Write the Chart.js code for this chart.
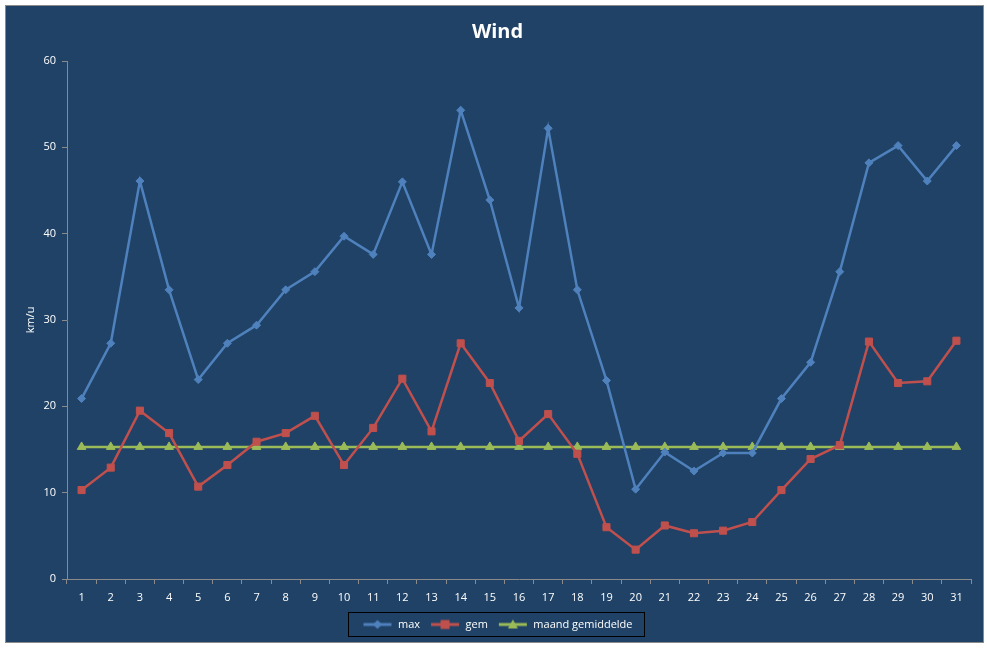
<!DOCTYPE html>
<html><head><meta charset="utf-8">
<script src="https://cdn.jsdelivr.net/npm/chart.js@4.4.0/dist/chart.umd.min.js"></script>
<style>
html,body{margin:0;padding:0;background:#fff;}
#wrap{position:absolute;left:5px;top:5px;width:977px;height:636px;border:1px solid #8a8a8a;background:#1F4266;}
canvas{display:block;}
</style></head><body>
<div id="wrap"><canvas id="c" width="977" height="636"></canvas></div>
<script>
const days = ["1","2","3","4","5","6","7","8","9","10","11","12","13","14","15","16","17","18","19","20","21","22","23","24","25","26","27","28","29","30","31"];
const maxWind = [20.9,27.3,46.1,33.5,23.1,27.3,29.4,33.5,35.6,39.7,37.6,46.0,37.6,54.3,43.9,31.4,52.2,33.5,23.0,10.4,14.7,12.5,14.6,14.6,20.9,25.1,35.6,48.2,50.2,46.1,50.2];
const gemWind = [10.3,12.9,19.5,16.9,10.7,13.2,15.9,16.9,18.9,13.2,17.5,23.2,17.1,27.3,22.7,16.0,19.1,14.5,6.0,3.4,6.2,5.3,5.6,6.6,10.3,13.9,15.5,27.5,22.7,22.9,27.6];
const maandGem = [15.3,15.3,15.3,15.3,15.3,15.3,15.3,15.3,15.3,15.3,15.3,15.3,15.3,15.3,15.3,15.3,15.3,15.3,15.3,15.3,15.3,15.3,15.3,15.3,15.3,15.3,15.3,15.3,15.3,15.3,15.3];
const yTicks = [0,10,20,30,40,50,60];

const FONT = "'Open Sans', 'DejaVu Sans', sans-serif";
const BLUE='#4F81BD', RED='#C0504D', GREEN='#9BBB59';

function legendIcon(color, style){
  const cv=document.createElement('canvas'); cv.width=30; cv.height=12;
  const g=cv.getContext('2d');
  g.strokeStyle=color; g.fillStyle=color; g.lineWidth=3;
  g.beginPath(); g.moveTo(1,6); g.lineTo(29,6); g.stroke();
  g.beginPath();
  if(style==='diamond'){ g.moveTo(15,1.5); g.lineTo(19.5,6); g.lineTo(15,10.5); g.lineTo(10.5,6); g.closePath(); }
  else if(style==='square'){ g.rect(10.5,1.5,9,9); }
  else { g.moveTo(15,1); g.lineTo(20,10); g.lineTo(10,10); g.closePath(); }
  g.fill();
  return cv;
}
const icons=[legendIcon(BLUE,'diamond'),legendIcon(RED,'square'),legendIcon(GREEN,'tri')];

const legendBorder={
  id:'legendBorder',
  afterDraw(chart){
    const hb=chart.legend.legendHitBoxes; if(!hb||!hb.length) return;
    let l=Infinity,r=-Infinity,t=Infinity,b=-Infinity;
    hb.forEach(h=>{l=Math.min(l,h.left);r=Math.max(r,h.left+h.width);t=Math.min(t,h.top);b=Math.max(b,h.top+h.height);});
    const ctx=chart.ctx; ctx.save(); ctx.strokeStyle='#000'; ctx.lineWidth=1;
    ctx.strokeRect(Math.round(l-14)+0.5,Math.round(t-7)+0.5,Math.round(r-l+26),Math.round(b-t+13));
    ctx.restore();
  }
};

new Chart(document.getElementById('c'),{
  type:'line',
  data:{labels:days,datasets:[
    {label:'max',data:maxWind,borderColor:BLUE,backgroundColor:BLUE,borderWidth:2.5,pointStyle:'rectRot',pointRadius:4,pointBorderWidth:1,tension:0},
    {label:'gem',data:gemWind,borderColor:RED,backgroundColor:RED,borderWidth:2.5,pointStyle:'rect',pointRadius:5,pointBorderWidth:1,tension:0},
    {label:'maand gemiddelde',data:maandGem,borderColor:GREEN,backgroundColor:GREEN,borderWidth:2.5,pointStyle:'triangle',pointRadius:5,pointBorderWidth:1,tension:0}
  ]},
  options:{
    responsive:false,animation:false,
    layout:{padding:{left:18,right:12,top:10,bottom:2}},
    plugins:{
      title:{display:true,text:'Wind',color:'#fff',font:{family:FONT,size:20,weight:'bold'},padding:{top:4,bottom:17}},
      legend:{position:'bottom',
        labels:{color:'#fff',font:{family:FONT,size:11},usePointStyle:true,pointStyleWidth:30,boxHeight:12,padding:10,
          generateLabels(chart){return chart.data.datasets.map((d,i)=>({text:d.label,fillStyle:d.borderColor,strokeStyle:d.borderColor,pointStyle:icons[i],fontColor:'#fff',lineWidth:0,datasetIndex:i,hidden:false}));}
        }},
      tooltip:{enabled:false}
    },
    scales:{
      x:{offset:true,
        grid:{display:true,drawOnChartArea:false,drawTicks:true,tickLength:5,offset:true,color:'#8a8a8a'},
        border:{color:'#8a8a8a',width:1},
        ticks:{color:'#fff',font:{family:FONT,size:11},maxRotation:0,autoSkip:false,padding:7},
        afterFit(s){s.height=30;}
      },
      y:{min:0,max:60,
        afterBuildTicks(s){s.ticks=yTicks.map(v=>({value:v}));},
        grid:{display:true,drawOnChartArea:false,drawTicks:true,tickLength:5,color:'#8a8a8a'},
        border:{color:'#8a8a8a',width:1},
        ticks:{color:'#fff',font:{family:FONT,size:11},padding:6},
        title:{display:true,text:'km/u',color:'#fff',font:{family:FONT,size:11},padding:{top:0,bottom:6}},
        afterFit(s){s.width=43;}
      }
    }
  },
  plugins:[legendBorder]
});
</script></body></html>
